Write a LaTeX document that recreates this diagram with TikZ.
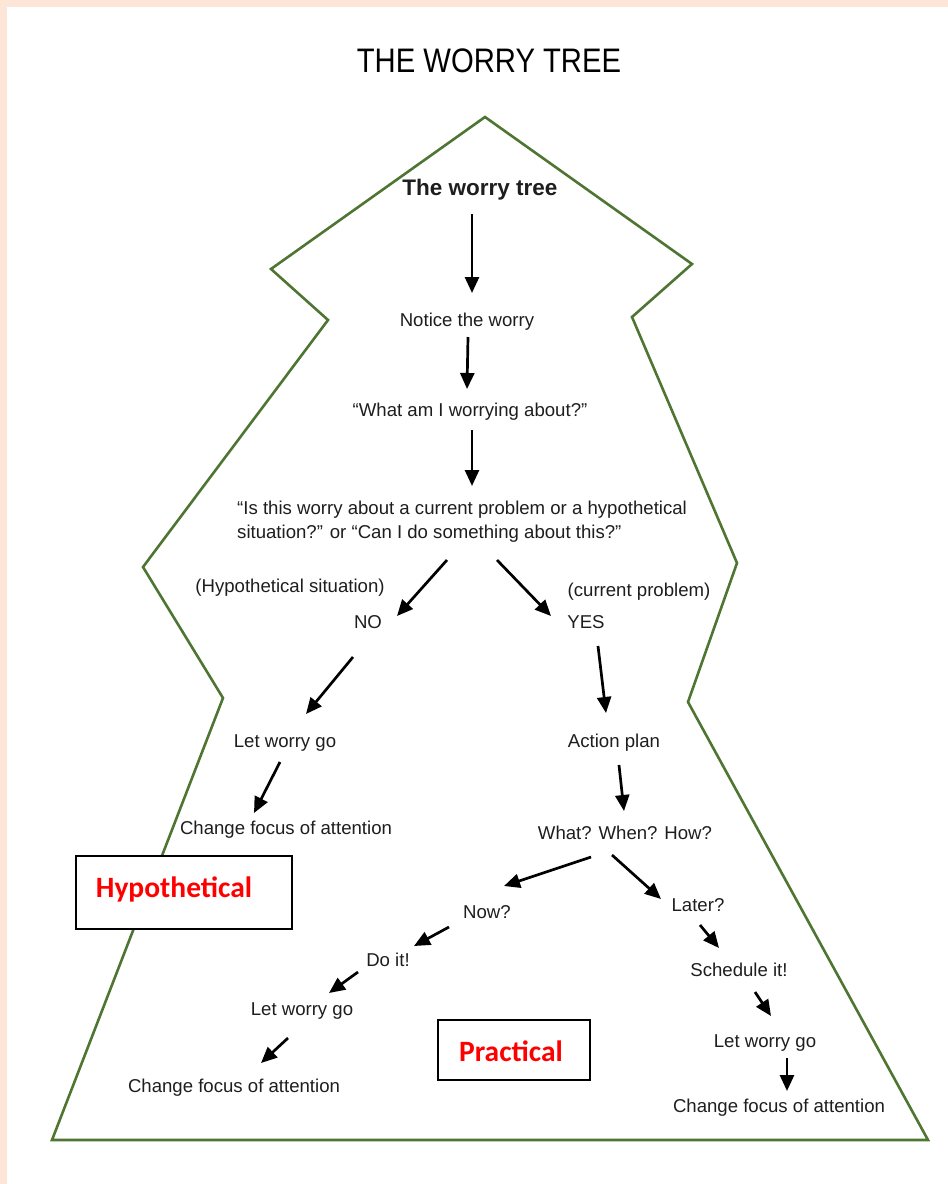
\documentclass[tikz,border=0pt]{standalone}
\usepackage{fontspec}
\setmainfont{Liberation Sans}
\newfontfamily\calibri{Carlito}
\usetikzlibrary{arrows.meta}
\definecolor{peach}{RGB}{253,229,216}
\definecolor{treegreen}{RGB}{78,118,50}
\definecolor{txt}{RGB}{30,30,30}
\definecolor{labelred}{RGB}{255,0,0}
\tikzset{
  lbl/.style={inner sep=0pt, text=txt, font=\fontsize{18.6}{22}\selectfont},
  arr/.style={line width=2.7pt, draw=black,
    -{Triangle[length=16pt,width=14pt]}},
  tag/.style={draw=black, line width=1.6pt, fill=white, inner sep=0pt},
  tagtext/.style={inner sep=0pt, text=labelred,
    font=\calibri\bfseries\fontsize{29.5}{34}\selectfont},
}
\begin{document}
\begin{tikzpicture}[x=1pt, y=-1pt]
\useasboundingbox (0,0) rectangle (948,1184);
% page background with peach margin
\fill[peach] (0,0) rectangle (948,1184);
\fill[white] (7,7) rectangle (948,1184);

% title
\node[inner sep=0pt, text=black, font=\fontsize{34}{38}\selectfont,
      xscale=0.86, transform shape] (title) at (489,61) {THE WORRY TREE};

% tree outline
\draw[treegreen, line width=2.6pt, line join=miter]
  (485,117) -- (692,264) -- (632,317) -- (737,563) -- (688,702)
  -- (928,1140) -- (52,1140) -- (223,698) -- (143,567)
  -- (328,320) -- (271,269) -- cycle;

% steps of the tree
\node[inner sep=0pt, text=txt, font=\bfseries\fontsize{22.5}{26}\selectfont]
  (top) at (480,190) {The worry tree};
\node[lbl] (notice) at (467,322) {Notice the worry};
\node[lbl] (what) at (470,412) {“What am I worrying about?”};
\node[lbl, anchor=west, align=left, font=\fontsize{18.6}{24}\selectfont]
  (question) at (237,522)
  {“Is this worry about a current problem or a hypothetical\\situation?” or “Can I do something about this?”};
\node[lbl] (hyp) at (290,588) {(Hypothetical situation)};
\node[lbl] (no) at (368,622) {NO};
\node[lbl] (cur) at (639,592) {(current problem)};
\node[lbl] (yes) at (586,622) {YES};
\node[lbl] (letgo1) at (285,743) {Let worry go};
\node[lbl] (plan) at (614,743) {Action plan};
\node[lbl] (focus1) at (286,830) {Change focus of attention};
\node[lbl] (www) at (625,833) {What? When? How?};
\node[lbl] (now) at (487,912) {Now?};
\node[lbl] (later) at (698,905) {Later?};
\node[lbl] (doit) at (388,960) {Do it!};
\node[lbl] (sched) at (739,970) {Schedule it!};
\node[lbl] (letgo2) at (302,1011) {Let worry go};
\node[lbl] (letgo3) at (765,1043) {Let worry go};
\node[lbl] (focus2) at (234,1088) {Change focus of attention};
\node[lbl] (focus3) at (779,1108) {Change focus of attention};

% arrow end points
\coordinate (a1s) at (472,214);  \coordinate (a1e) at (472,293);
\coordinate (a2s) at (468,337);  \coordinate (a2e) at (467,389);
\coordinate (a3s) at (472,430);  \coordinate (a3e) at (472,486);
\coordinate (a4s) at (447,560);  \coordinate (a4e) at (397,616);
\coordinate (a5s) at (497,560);  \coordinate (a5e) at (551,616);
\coordinate (a6s) at (353,657);  \coordinate (a6e) at (306,714);
\coordinate (a7s) at (598,646);  \coordinate (a7e) at (606,713);
\coordinate (a8s) at (280,762);  \coordinate (a8e) at (254,813);
\coordinate (a9s) at (619,765);  \coordinate (a9e) at (624,811);
\coordinate (a10s) at (591,857); \coordinate (a10e) at (504,886);
\coordinate (a11s) at (612,855); \coordinate (a11e) at (661,899);
\coordinate (a12s) at (449,927); \coordinate (a12e) at (414,946);
\coordinate (a13s) at (700,925); \coordinate (a13e) at (719,948);
\coordinate (a14s) at (358,972); \coordinate (a14e) at (329,993);
\coordinate (a15s) at (755,992); \coordinate (a15e) at (771,1016);
\coordinate (a16s) at (288,1038);\coordinate (a16e) at (261,1063);
\coordinate (a17s) at (787,1058);\coordinate (a17e) at (787,1091);

% connectors
\draw[arr] (a1s) -- (a1e);
\draw[arr] (a2s) -- (a2e);
\draw[arr] (a3s) -- (a3e);
\draw[arr] (a4s) -- (a4e);
\draw[arr] (a5s) -- (a5e);
\draw[arr] (a6s) -- (a6e);
\draw[arr] (a7s) -- (a7e);
\draw[arr] (a8s) -- (a8e);
\draw[arr] (a9s) -- (a9e);
\draw[arr] (a10s) -- (a10e);
\draw[arr] (a11s) -- (a11e);
\draw[arr] (a12s) -- (a12e);
\draw[arr] (a13s) -- (a13e);
\draw[arr] (a14s) -- (a14e);
\draw[arr] (a15s) -- (a15e);
\draw[arr] (a16s) -- (a16e);
\draw[arr] (a17s) -- (a17e);

% category labels
\node[tag, minimum width=216pt, minimum height=73pt] (hbox) at (184,892.5) {};
\node[tagtext] (htext) at (174,889) {Hypothetical};
\node[tag, minimum width=152pt, minimum height=60pt] (pbox) at (514,1050) {};
\node[tagtext] (ptext) at (511,1051) {Practical};
\end{tikzpicture}
\end{document}
